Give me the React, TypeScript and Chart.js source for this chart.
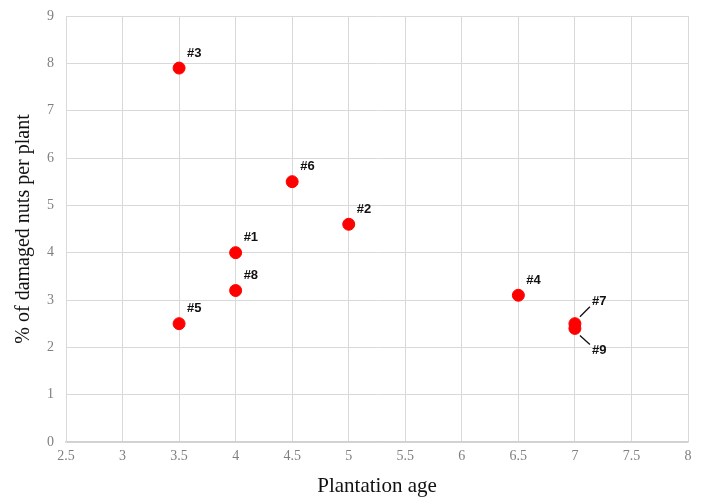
import React, { useEffect, useRef } from "react";
import { Chart, registerables } from "chart.js";

Chart.register(...registerables);

const labels = ["#1", "#2", "#3", "#4", "#5", "#6", "#7", "#8", "#9"];
const ages = [4, 5, 3.5, 6.5, 3.5, 4.5, 7, 4, 7];
const damaged = [4.0, 4.6, 7.9, 3.1, 2.5, 5.5, 2.5, 3.2, 2.4];
const xTitle = "Plantation age";
const yTitle = "% of damaged nuts per plant";

const SERIF = "'Liberation Serif', 'DejaVu Serif', serif";
const SANS = "'Liberation Sans', 'Open Sans', sans-serif";

const labelPlugin = {
  id: "pointLabels",
  afterDatasetsDraw(chart: any) {
    const ctx = chart.ctx;
    const meta = chart.getDatasetMeta(0);
    ctx.save();
    ctx.font = `bold 13px ${SANS}`;
    ctx.fillStyle = "#111";
    ctx.strokeStyle = "#111";
    ctx.lineWidth = 1.3;
    ctx.textBaseline = "middle";
    ctx.textAlign = "left";
    meta.data.forEach((el: any, i: number) => {
      const lab = labels[i];
      const x = el.x;
      const y = el.y;
      if (lab === "#7") {
        ctx.beginPath();
        ctx.moveTo(x + 5, y - 7);
        ctx.lineTo(x + 15, y - 17);
        ctx.stroke();
        ctx.fillText(lab, x + 17, y - 22);
      } else if (lab === "#9") {
        ctx.beginPath();
        ctx.moveTo(x + 5, y + 7);
        ctx.lineTo(x + 15, y + 16);
        ctx.stroke();
        ctx.fillText(lab, x + 17, y + 22);
      } else {
        ctx.fillText(lab, x + 8, y - 15);
      }
    });
    ctx.restore();
  },
};

export default function App() {
  const ref = useRef<HTMLCanvasElement>(null);
  useEffect(() => {
    if (!ref.current) return;
    const chart = new Chart(ref.current, {
      type: "scatter",
      data: {
        datasets: [
          {
            label: "damage",
            data: ages.map((a, i) => ({ x: a, y: damaged[i] })),
            backgroundColor: "#ff0000",
            borderColor: "#ff0000",
            pointRadius: 6,
            pointHoverRadius: 6,
          },
        ],
      },
      options: {
        animation: false,
        responsive: true,
        maintainAspectRatio: false,
        layout: { padding: { left: 12, right: 16, top: 16, bottom: 0 } },
        plugins: { legend: { display: false }, tooltip: { enabled: false } },
        scales: {
          x: {
            type: "linear",
            min: 2.5,
            max: 8,
            ticks: {
              stepSize: 0.5,
              color: "#7f7f7f",
              font: { family: SERIF, size: 14 },
              padding: 6,
              callback: (v: any) => String(Number(v)),
            },
            grid: { color: "#d9d9d9", drawTicks: false },
            border: { color: "#d0d0d0", width: 1.5 },
            title: {
              display: true,
              text: xTitle,
              color: "#111",
              font: { family: SERIF, size: 21 },
              padding: { top: 6, bottom: 0 },
            },
            afterFit(scale: any) {
              scale.height = 57;
            },
          },
          y: {
            min: 0,
            max: 9,
            ticks: {
              stepSize: 1,
              color: "#7f7f7f",
              font: { family: SERIF, size: 14 },
              padding: 12,
            },
            grid: { color: "#d9d9d9", drawTicks: false },
            border: { color: "#d9d9d9" },
            title: {
              display: true,
              text: yTitle,
              color: "#111",
              font: { family: SERIF, size: 20 },
              padding: { top: 0, bottom: 4 },
            },
            afterFit(scale: any) {
              scale.width = 54;
              scale.paddingTop = 0;
              scale.paddingBottom = 0;
            },
          },
        },
      },
      plugins: [labelPlugin],
    });
    return () => chart.destroy();
  }, []);
  return (
    <div style={{ position: "fixed", left: 0, top: 0, width: 704, height: 499, background: "#fff" }}>
      <canvas ref={ref} />
    </div>
  );
}
